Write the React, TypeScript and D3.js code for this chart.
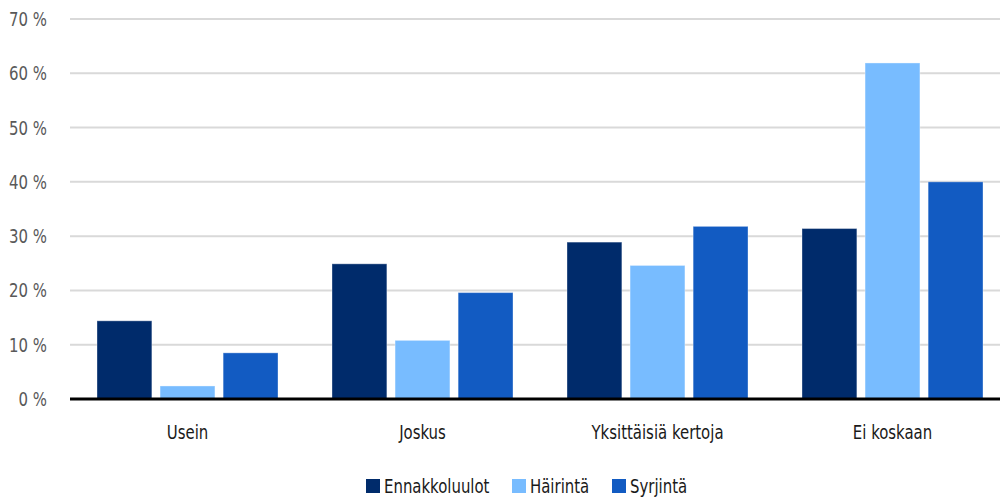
import React from "react";
import * as d3 from "d3";

const categories = ["Usein", "Joskus", "Yksittäisiä kertoja", "Ei koskaan"];
const seriesNames = ["Ennakkoluulot", "Häirintä", "Syrjintä"];
const ennakkoluulot = [14.4, 24.9, 28.9, 31.4];
const hairinta = [2.4, 10.8, 24.6, 61.9];
const syrjinta = [8.5, 19.6, 31.8, 40.0];
const yTicks = [0, 10, 20, 30, 40, 50, 60, 70];
const colors = ["#002b6b", "#78bcff", "#125bc2"];

const W = 1000;
const H = 497;
const FONT = "'DejaVu Sans Condensed', 'Liberation Sans Narrow', 'Roboto', sans-serif";
const SX = 0.83;

function T(props: { x: number; y: number; anchor?: string; fill: string; size?: number; children: React.ReactNode }) {
  return (
    <g transform={`translate(${props.x},${props.y}) scale(${SX},1)`}>
      <text x={0} y={0} dy="0.35em" textAnchor={props.anchor || "start"} fontSize={props.size || 20} fill={props.fill}>
        {props.children}
      </text>
    </g>
  );
}

export default function App() {
  const values = [ennakkoluulot, hairinta, syrjinta];
  const x0 = d3.scaleBand<string>().domain(categories).range([70, 1010]).paddingInner(0).paddingOuter(0);
  const inner = d3.scaleBand<string>().domain(seriesNames).range([27, 235 - 27]).paddingInner(0.13);
  const y = d3.scaleLinear().domain([0, 70]).range([399, 19]);

  return (
    <svg width={W} height={H} style={{ position: "absolute", left: 0, top: 0 }} fontFamily={FONT}>
      <rect width={W} height={H} fill="#fff" />
      {yTicks.map((t) => (
        <g key={t}>
          {t > 0 && <line x1={70} x2={1000} y1={y(t)} y2={y(t)} stroke="#d9d9d9" strokeWidth={2} />}
          <T x={47} y={y(t)} anchor="end" fill="#595959">
            {t} %
          </T>
        </g>
      ))}
      {categories.map((c, i) => (
        <g key={c} transform={`translate(${x0(c)},0)`}>
          {seriesNames.map((s, j) => (
            <rect
              key={s}
              x={inner(s)}
              y={y(values[j][i])}
              width={inner.bandwidth()}
              height={y(0) - y(values[j][i])}
              fill={colors[j]}
              stroke="#ffffff"
              strokeOpacity={0.35}
              strokeWidth={1}
            />
          ))}
          <T x={x0.bandwidth() / 2} y={432} anchor="middle" fill="#1a1a1a">
            {c}
          </T>
        </g>
      ))}
      <line x1={70} x2={1000} y1={y(0)} y2={y(0)} stroke="#000" strokeWidth={3} />
      {(() => {
        const items = [
          { name: seriesNames[0], x: 366 },
          { name: seriesNames[1], x: 512 },
          { name: seriesNames[2], x: 612 },
        ];
        return items.map((it, j) => (
          <g key={it.name}>
            <rect x={it.x} y={479} width={14} height={14} fill={colors[j]} />
            <T x={it.x + 18} y={486} fill="#1a1a1a">
              {it.name}
            </T>
          </g>
        ));
      })()}
    </svg>
  );
}
